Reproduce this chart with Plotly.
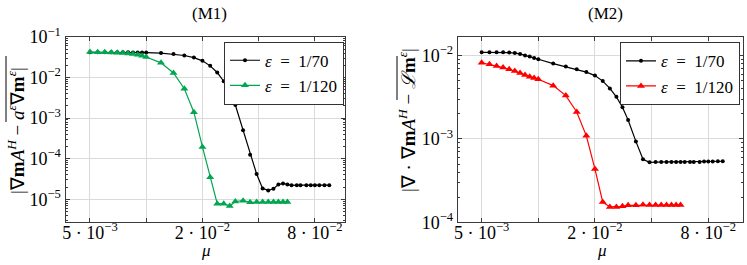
import plotly.graph_objects as go

# ---------------- data ----------------
mu_fine = [0.50, 0.55, 0.60, 0.65, 0.70, 0.75, 0.80, 0.85, 0.90, 0.95, 1.00]
mu_mid = [1.2, 1.4, 1.6, 1.8, 2.0, 2.2, 2.4, 2.6, 2.8, 3.0]
mu_tail70 = [3.3, 3.6, 3.9, 4.2, 4.5, 4.8, 5.1, 5.4, 5.7, 6.0, 6.4, 6.7, 7.2, 7.6, 8.0, 8.45, 9.0, 9.55]
mu_tail120 = [3.3, 3.6, 3.9, 4.2, 4.5, 4.8, 5.1, 5.4, 5.7]

mu70 = [m * 1e-2 for m in mu_fine + mu_mid + mu_tail70]
mu120 = [m * 1e-2 for m in mu_fine + mu_mid + mu_tail120]

# (M1)
m1_eps70 = [4.2e-2, 4.2e-2, 4.2e-2, 4.2e-2, 4.2e-2, 4.2e-2, 4.18e-2, 4.17e-2, 4.15e-2, 4.15e-2, 4.12e-2,
            4.0e-2, 3.8e-2, 3.5e-2, 3.1e-2, 2.58e-2, 1.94e-2, 1.33e-2, 8.1e-3, 4.6e-3, 2.1e-3,
            5.0e-4, 1.25e-4, 4.2e-5, 1.85e-5, 1.65e-5, 1.82e-5, 2.3e-5, 2.45e-5, 2.3e-5,
            2.2e-5, 2.22e-5, 2.22e-5, 2.22e-5, 2.22e-5, 2.22e-5, 2.22e-5, 2.22e-5, 2.22e-5]
m1_eps120 = [4.25e-2, 4.22e-2, 4.2e-2, 4.15e-2, 4.1e-2, 4.0e-2, 3.9e-2, 3.8e-2, 3.65e-2, 3.45e-2, 3.2e-2,
             2.3e-2, 1.3e-2, 5.3e-3, 1.4e-3, 1.95e-4, 3.5e-5, 7.8e-6, 7.8e-6, 6.8e-6, 8.8e-6,
             9.2e-6, 8.4e-6, 8.5e-6, 8.5e-6, 8.5e-6, 8.5e-6, 8.5e-6, 8.5e-6, 8.5e-6]

# (M2)
m2_eps70 = [1.095e-2, 1.095e-2, 1.095e-2, 1.095e-2, 1.086e-2, 1.071e-2, 1.048e-2, 1.005e-2, 9.73e-3, 9.33e-3, 9.03e-3,
            8.02e-3, 7.38e-3, 6.85e-3, 6.34e-3, 5.75e-3, 4.94e-3, 4.04e-3, 3.2e-3, 2.4e-3, 1.69e-3,
            9.35e-4, 5.7e-4, 5.25e-4, 5.3e-4, 5.3e-4, 5.3e-4, 5.3e-4, 5.3e-4, 5.3e-4,
            5.3e-4, 5.3e-4, 5.3e-4, 5.3e-4, 5.35e-4, 5.35e-4, 5.35e-4, 5.4e-4, 5.4e-4]
m2_eps120 = [8.2e-3, 7.87e-3, 7.49e-3, 7.18e-3, 6.85e-3, 6.55e-3, 6.16e-3, 5.84e-3, 5.57e-3, 5.37e-3, 5.2e-3,
             4.36e-3, 3.31e-3, 2.11e-3, 1.09e-3, 4.36e-4, 1.75e-4, 1.53e-4, 1.53e-4, 1.56e-4, 1.6e-4,
             1.6e-4, 1.62e-4, 1.61e-4, 1.61e-4, 1.61e-4, 1.61e-4, 1.61e-4, 1.61e-4, 1.61e-4]

x_tickvals = [5e-3, 1e-2, 2e-2, 4e-2, 8e-2]
x_ticktext = ["5 · 10<sup>−3</sup>", "", "2 · 10<sup>−2</sup>", "", "8 · 10<sup>−2</sup>"]
y1_tickvals = [1e-5, 1e-4, 1e-3, 1e-2, 1e-1]
y1_ticktext = ["10<sup>−5</sup>", "10<sup>−4</sup>", "10<sup>−3</sup>", "10<sup>−2</sup>", "10<sup>−1</sup>"]
y2_tickvals = [1e-4, 1e-3, 1e-2]
y2_ticktext = ["10<sup>−4</sup>", "10<sup>−3</sup>", "10<sup>−2</sup>"]

label70 = "<i>ε</i>  =  1/70"
label120 = "<i>ε</i>  =  1/120"

# ---------------- styling ----------------
FONT = "Liberation Serif"
FS = 17
TFS = 18
BLACK = "#000000"
GREEN = "#00a650"
RED = "#ff0000"
GRID = "#dadada"
AXIS = "#3a3a3a"

def minor_vals(lo, hi):
    vals = []
    for e in range(lo, hi):
        for k in range(2, 10):
            vals.append(k * 10.0 ** e)
    return vals

fig = go.Figure()

fig.add_trace(go.Scatter(x=mu70, y=m1_eps70, mode="lines+markers", name=label70,
                         line=dict(color=BLACK, width=1.2), marker=dict(symbol="circle", size=4, color=BLACK),
                         xaxis="x", yaxis="y", legend="legend"))
fig.add_trace(go.Scatter(x=mu120, y=m1_eps120, mode="lines+markers", name=label120,
                         line=dict(color=GREEN, width=1.2), marker=dict(symbol="triangle-up", size=7, color=GREEN),
                         xaxis="x", yaxis="y", legend="legend"))
fig.add_trace(go.Scatter(x=mu70, y=m2_eps70, mode="lines+markers", name=label70,
                         line=dict(color=BLACK, width=1.2), marker=dict(symbol="circle", size=4, color=BLACK),
                         xaxis="x2", yaxis="y2", legend="legend2"))
fig.add_trace(go.Scatter(x=mu120, y=m2_eps120, mode="lines+markers", name=label120,
                         line=dict(color=RED, width=1.2), marker=dict(symbol="triangle-up", size=7, color=RED),
                         xaxis="x2", yaxis="y2", legend="legend2"))

tickfont = dict(family=FONT, size=TFS, color="#000")
common_x = dict(type="log", tickmode="array", tickvals=x_tickvals, ticktext=x_ticktext,
                showgrid=True, gridcolor=GRID, gridwidth=1, showline=True, linecolor=AXIS, linewidth=1,
                mirror="ticks", ticks="inside", ticklen=4, tickcolor=AXIS, zeroline=False,
                tickfont=tickfont, automargin=False, ticklabelstandoff=-6)
common_y = dict(type="log", tickmode="array",
                showgrid=True, gridcolor=GRID, gridwidth=1, showline=True, linecolor=AXIS, linewidth=1,
                mirror="ticks", ticks="inside", ticklen=4, tickcolor=AXIS, zeroline=False,
                tickfont=tickfont, automargin=False)

ydom = [0.161, 0.862]
legend_common = dict(xanchor="right", yanchor="top", bgcolor="white",
                     bordercolor="#333", borderwidth=1, font=dict(family=FONT, size=17, color="#000"),
                     tracegroupgap=0)
fig.update_layout(
    width=747, height=265,
    margin=dict(l=0, r=0, t=0, b=0),
    paper_bgcolor="white", plot_bgcolor="white",
    showlegend=True,
    xaxis=dict(common_x, domain=[0.0877, 0.4618], range=[-2.432, -0.936], anchor="y"),
    yaxis=dict(common_y, domain=ydom, range=[-5.569, -0.99], tickvals=y1_tickvals, ticktext=y1_ticktext,
               anchor="x",
               minor=dict(tickmode="array", tickvals=minor_vals(-6, -1), ticks="inside", ticklen=2,
                          tickcolor=AXIS, showgrid=False)),
    xaxis2=dict(common_x, domain=[0.6127, 0.9942], range=[-2.4285, -0.914], anchor="y2"),
    yaxis2=dict(common_y, domain=ydom, range=[-4.0, -1.772], tickvals=y2_tickvals, ticktext=y2_ticktext,
                anchor="x2",
                minor=dict(tickmode="array", tickvals=minor_vals(-4, -1), ticks="inside", ticklen=2,
                           tickcolor=AXIS, showgrid=False)),
    legend=dict(legend_common, x=0.4605, y=0.8426),
    legend2=dict(legend_common, x=0.9906, y=0.8404),
    font=dict(family=FONT, size=FS, color="#000"),
)

ann_font = dict(family=FONT, size=FS, color="#000")
ylab_font = dict(family=FONT, size=19, color="#000")
ann_common = dict(xref="paper", yref="paper", showarrow=False, xanchor="center", yanchor="middle")
fig.add_annotation(text="(M1)", x=209 / 747, y=1 - 14 / 265, font=ann_font, **ann_common)
fig.add_annotation(text="(M2)", x=605 / 747, y=1 - 14 / 265, font=ann_font, **ann_common)
fig.add_annotation(text="<i>μ</i>", x=206 / 747, y=1 - 250 / 265, font=ann_font, **ann_common)
fig.add_annotation(text="<i>μ</i>", x=602 / 747, y=1 - 250 / 265, font=ann_font, **ann_common)
fig.add_annotation(text="|∇<b>m</b><i>A</i><sup><i>H</i></sup> − <i>a</i><sup><i>ε</i></sup>∇<b>m</b><sup><i>ε</i></sup>|",
                   x=16 / 747, y=1 - 131 / 265, textangle=-90, font=ylab_font, **ann_common)
fig.add_annotation(text="|∇ · ∇<b>m</b><i>A</i><sup><i>H</i></sup> − <i>ℒ</i><b>m</b><sup><i>ε</i></sup>|",
                   x=407 / 747, y=1 - 120 / 265, textangle=-90, font=ylab_font, **ann_common)
# overlines
fig.add_shape(type="line", xref="paper", yref="paper", x0=6 / 747, x1=6 / 747,
              y0=1 - 122 / 265, y1=1 - 56 / 265, line=dict(color="#000", width=1))
fig.add_shape(type="line", xref="paper", yref="paper", x0=397 / 747, x1=397 / 747,
              y0=1 - 100 / 265, y1=1 - 56 / 265, line=dict(color="#000", width=1))

fig.write_html("out.html", config={"displayModeBar": False},
               post_script="document.body.style.margin='0';document.body.style.padding='0';")
